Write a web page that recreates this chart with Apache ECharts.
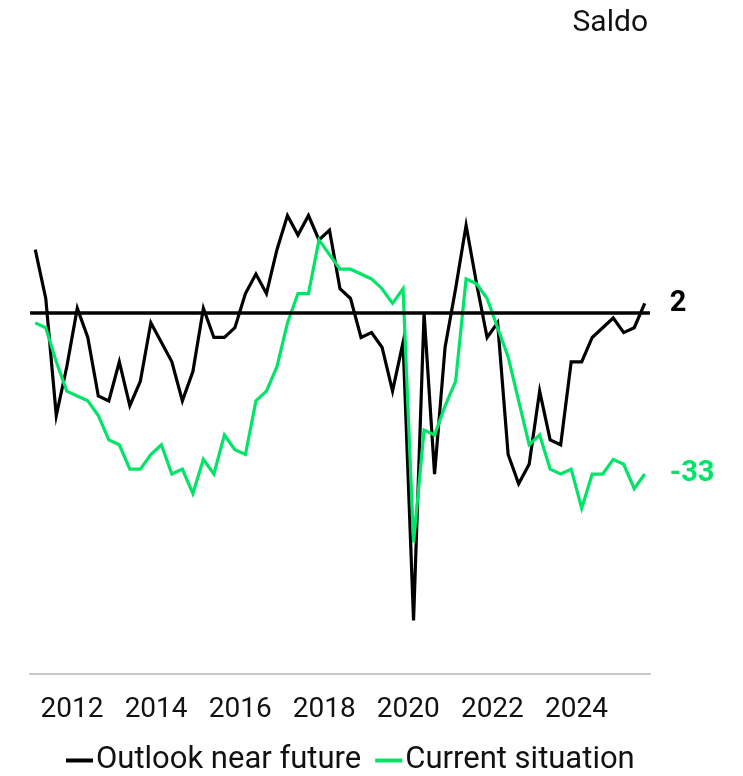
<!DOCTYPE html>
<html>
<head>
<meta charset="utf-8">
<title>Saldo</title>
<script src="https://cdn.jsdelivr.net/npm/echarts@6/dist/echarts.min.js"></script>
<style>
  html, body { margin: 0; padding: 0; background: #fff; }
  #chart { width: 743px; height: 776px; }
</style>
</head>
<body>
<div id="chart"></div>
<script>
// quarters 2011Q1 .. 2025Q3
var periods = [];
for (var yr = 2011; yr <= 2025; yr++) {
  for (var q = 1; q <= 4; q++) {
    if (yr === 2025 && q > 3) break;
    periods.push(yr + 'Q' + q);
  }
}
var yearTicks = [2012, 2014, 2016, 2018, 2020, 2022, 2024];

var outlook = [13, 3, -21, -11, 1, -5, -17, -18, -10, -19,
  -14, -2, -6, -10, -18, -12, 1, -5, -5, -3,
  4, 8, 4, 13, 20, 16, 20, 15, 17, 5,
  3, -5, -4, -7, -16, -6, -63, 0, -33, -7,
  5, 18, 6, -5, -2, -29, -35, -31, -16, -26,
  -27, -10, -10, -5, -3, -1, -4, -3, 2];

var current = [-2, -3, -10, -16, -17, -18, -21, -26, -27, -32,
  -32, -29, -27, -33, -32, -37, -30, -33, -25, -28,
  -29, -18, -16, -11, -2, 4, 4, 15, 12, 9,
  9, 8, 7, 5, 2, 5, -47, -24, -25, -19,
  -14, 7, 6, 3, -3, -9, -18, -27, -25, -32,
  -33, -32, -40, -33, -33, -30, -31, -36, -33];

var green = '#00e467';
var font = 'Roboto, "Noto Sans", sans-serif';

// period -> position on the year axis (middle of the quarter)
function toX(p) {
  var y = +p.slice(0, 4), q = +p.slice(5);
  return y + (q - 0.5) / 4;
}
function pairs(vals) {
  return vals.map(function (v, i) { return [toX(periods[i]), v]; });
}

var chart = echarts.init(document.getElementById('chart'));
chart.setOption({
  animation: false,
  textStyle: { fontFamily: font },
  title: {
    text: 'Saldo',
    right: 90,
    top: 3,
    textStyle: { fontSize: 30, fontWeight: 'normal', color: '#111', fontFamily: font }
  },
  legend: {
    top: 745,
    left: 66,
    padding: 0,
    icon: 'rect',
    itemWidth: 27,
    itemHeight: 4,
    itemGap: 14,
    textStyle: { fontSize: 31, color: '#111', fontFamily: font, padding: [0, 0, 0, -2] },
    data: ['Outlook near future', 'Current situation']
  },
  grid: { left: 30, right: 93, top: 118, bottom: 102 },
  xAxis: {
    type: 'value',
    min: 2011,
    max: 2025.75,
    splitLine: { show: false },
    axisTick: { show: false },
    axisLine: { show: true, onZero: false, lineStyle: { color: '#c8c8c8', width: 2 } },
    axisLabel: {
      customValues: yearTicks,
      formatter: function (v) { return String(v); },
      fontSize: 28,
      color: '#111',
      margin: 22,
      fontFamily: font
    }
  },
  yAxis: {
    type: 'value',
    min: -74,
    max: 40,
    show: false,
    splitLine: { show: false }
  },
  series: [
    {
      name: 'Outlook near future',
      type: 'line',
      data: pairs(outlook),
      symbol: 'none',
      color: '#000',
      lineStyle: { color: '#000', width: 3.2, join: 'miter' },
      endLabel: {
        show: true,
        distance: 25,
        formatter: function (p) { return p.value[1]; },
        fontSize: 29,
        fontWeight: 'bold',
        color: '#000',
        fontFamily: font
      },
      markLine: {
        silent: true,
        symbol: 'none',
        label: { show: false },
        lineStyle: { color: '#000', width: 3.5, type: 'solid' },
        data: [{ yAxis: 0 }]
      }
    },
    {
      name: 'Current situation',
      type: 'line',
      data: pairs(current),
      symbol: 'none',
      color: green,
      lineStyle: { color: green, width: 3.2, join: 'miter' },
      endLabel: {
        show: true,
        distance: 25,
        formatter: function (p) { return p.value[1]; },
        fontSize: 29,
        fontWeight: 'bold',
        color: green,
        fontFamily: font
      }
    }
  ]
});
</script>
</body>
</html>
